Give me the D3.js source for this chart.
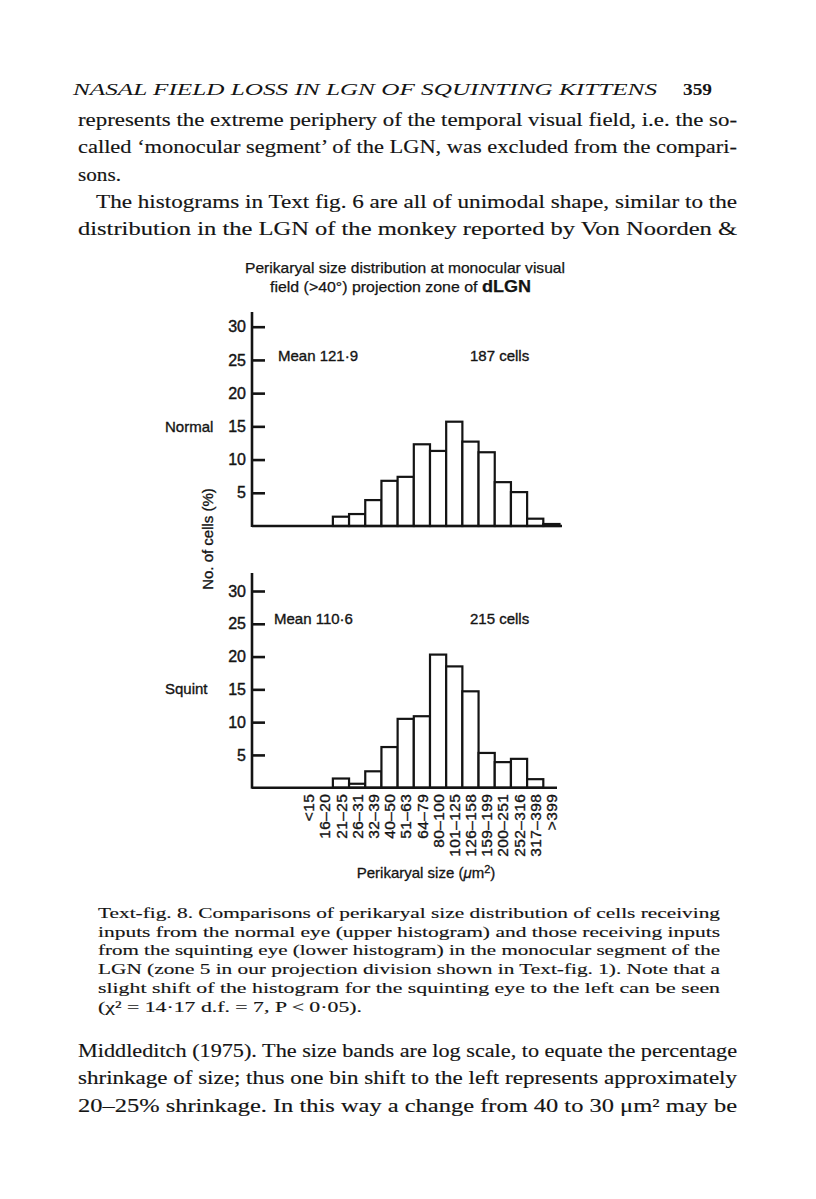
<!DOCTYPE html>
<html>
<head>
<meta charset="utf-8">
<script src="https://cdn.jsdelivr.net/npm/d3@7"></script>
<style>
  body { margin: 0; background: #fff; }
  svg { display: block; }
</style>
</head>
<body>
<script>
// Page size
const w = 816;
const h = 1199;

// Size bins (um^2), log spaced
const sizeBins = ["<15", "16–20", "21–25", "26–31", "32–39", "40–50", "51–63", "64–79",
  "80–100", "101–125", "126–158", "159–199", "200–251", "252–316", "317–398", ">399"];

// Percent of cells in each bin
const normalPct = [0, 0, 1.4, 1.8, 3.9, 6.8, 7.4, 12.3, 11.3, 15.7, 12.7, 11.1, 6.6, 5.1, 1.1, 0.3];
const squintPct = [0, 0, 1.4, 0.6, 2.5, 6.2, 10.5, 10.9, 20.3, 18.5, 14.7, 5.3, 3.9, 4.4, 1.3, 0];

// y ticks
const yTicks = [5, 10, 15, 20, 25, 30];

// Panel labels
const panelNames = ["Normal", "Squint"];
const panelMeans = ["Mean 121·9", "Mean 110·6"];
const panelCounts = ["187 cells", "215 cells"];

// Page text (header, paragraphs, caption)
const headerText = "NASAL FIELD LOSS IN LGN OF SQUINTING KITTENS";
const pageNumber = "359";
const topLines = [
  "represents the extreme periphery of the temporal visual field, i.e. the so-",
  "called ‘monocular segment’ of the LGN, was excluded from the compari-",
  "sons.",
  "The histograms in Text fig. 6 are all of unimodal shape, similar to the",
  "distribution in the LGN of the monkey reported by Von Noorden &"
];
const captionLines = [
  "Text-fig. 8. Comparisons of perikaryal size distribution of cells receiving",
  "inputs from the normal eye (upper histogram) and those receiving inputs",
  "from the squinting eye (lower histogram) in the monocular segment of the",
  "LGN (zone 5 in our projection division shown in Text-fig. 1). Note that a",
  "slight shift of the histogram for the squinting eye to the left can be seen",
  "(χ² = 14·17 d.f. = 7, P < 0·05)."
];
const bottomLines = [
  "Middleditch (1975). The size bands are log scale, to equate the percentage",
  "shrinkage of size; thus one bin shift to the left represents approximately",
  "20–25% shrinkage. In this way a change from 40 to 30 μm² may be"
];

const sans = "'Liberation Sans', Arial, Helvetica, sans-serif";
const serif = "'Liberation Serif', 'Times New Roman', serif";
const ink = "#141414";

const svg = d3.select("body").append("svg").attr("width", w).attr("height", h);
svg.append("rect").attr("width", w).attr("height", h).attr("fill", "#fff");

// Chart geometry
const axisX = 252;
const barLeft = 300.5;
const barRight = 559.5;
const panels = [
  { data: normalPct, base: 526, top: 326.7, axisTop: 312, lineEnd: 562, labelY: 432, textY: 361 },
  { data: squintPct, base: 787.7, top: 591, axisTop: 573, lineEnd: 557, labelY: 694, textY: 624 }
];

const xScale = d3.scaleBand().domain(sizeBins).range([barLeft, barRight]).padding(0);

panels.forEach((p, k) => drawPanel(p, k));

function drawPanel(p, k) {
  const yScale = d3.scaleLinear().domain([0, 30]).range([p.base, p.top]);
  const g = svg.append("g");

  // bars
  g.selectAll("rect")
    .data(p.data.map((v, i) => ({ bin: sizeBins[i], v: v })).filter(d => d.v > 0))
    .enter()
    .append("rect")
    .attr("x", d => xScale(d.bin))
    .attr("y", d => yScale(d.v))
    .attr("width", xScale.bandwidth())
    .attr("height", d => p.base - yScale(d.v))
    .attr("fill", "#fff")
    .attr("stroke", ink)
    .attr("stroke-width", 2.2);

  // y axis, ticks pointing inwards
  const yAxis = d3.axisLeft(yScale).tickValues(yTicks).tickSize(-13).tickPadding(6);
  const ya = g.append("g")
    .attr("transform", "translate(" + axisX + ",0)")
    .call(yAxis)
    .attr("font-size", 16)
    .attr("font-family", sans);
  ya.select(".domain").remove();
  ya.selectAll("line").attr("stroke", ink).attr("stroke-width", 2.6);
  ya.selectAll("text").attr("fill", ink).attr("stroke", ink).attr("stroke-width", 0.4);

  // axis + baseline
  g.append("line").attr("x1", axisX).attr("x2", axisX).attr("y1", p.base + 1).attr("y2", p.axisTop)
    .attr("stroke", ink).attr("stroke-width", 2.6);
  g.append("line").attr("x1", axisX).attr("x2", p.lineEnd).attr("y1", p.base).attr("y2", p.base)
    .attr("stroke", ink).attr("stroke-width", 2.6);

  // labels
  const lab = g.append("g").attr("font-family", sans).attr("font-size", 15)
    .attr("fill", ink).attr("stroke", ink).attr("stroke-width", 0.35);
  lab.append("text").attr("x", 165).attr("y", p.labelY).text(panelNames[k]);
  lab.append("text").attr("x", k === 0 ? 278 : 274).attr("y", p.textY).text(panelMeans[k]);
  lab.append("text").attr("x", 470).attr("y", p.textY).text(panelCounts[k]);

  // bin labels only under the lower histogram
  if (k === 1) {
    const xAxis = d3.axisBottom(xScale).tickSize(0).tickPadding(0);
    const xa = g.append("g")
      .attr("transform", "translate(0," + p.base + ")")
      .call(xAxis)
      .attr("font-size", 15.5)
      .attr("font-family", sans);
    xa.select(".domain").remove();
    xa.selectAll("text")
      .attr("transform", "rotate(-90)")
      .attr("x", -6)
      .attr("y", 0)
      .attr("dy", "0.36em")
      .attr("letter-spacing", 0.4)
      .style("text-anchor", "end")
      .attr("fill", ink).attr("stroke", ink).attr("stroke-width", 0.35);
  }
}

// Chart title
const title = svg.append("g").attr("font-family", sans).attr("fill", ink)
  .attr("stroke", ink).attr("stroke-width", 0.25);
title.append("text").attr("x", 245).attr("y", 272.5).attr("font-size", 15)
  .attr("textLength", 320).attr("lengthAdjust", "spacingAndGlyphs")
  .text("Perikaryal size distribution at monocular visual");
const t2 = title.append("text").attr("x", 270).attr("y", 291.5).attr("font-size", 15)
  .attr("textLength", 261).attr("lengthAdjust", "spacingAndGlyphs");
t2.append("tspan").text("field (>40°) projection zone of ");
t2.append("tspan").attr("font-weight", "bold").attr("font-size", 17).text("dLGN");

// y axis title
svg.append("text")
  .attr("transform", "translate(213,539)rotate(-90)")
  .attr("text-anchor", "middle")
  .attr("font-family", sans).attr("font-size", 15)
  .attr("fill", ink).attr("stroke", ink).attr("stroke-width", 0.35)
  .text("No. of cells (%)");

// x axis title
const xt = svg.append("text").attr("x", 426).attr("y", 878).attr("text-anchor", "middle")
  .attr("font-family", sans).attr("font-size", 15).attr("fill", ink)
  .attr("stroke", ink).attr("stroke-width", 0.3);
xt.append("tspan").text("Perikaryal size (");
xt.append("tspan").attr("font-style", "italic").text("μ");
xt.append("tspan").text("m");
xt.append("tspan").attr("dy", -5).attr("font-size", 11).text("2");
xt.append("tspan").attr("dy", 5).text(")");

// Running header
svg.append("text").attr("x", 73).attr("y", 95).attr("font-family", serif)
  .attr("font-style", "italic").attr("font-size", 17).attr("fill", ink)
  .attr("textLength", 584).attr("lengthAdjust", "spacingAndGlyphs")
  .text(headerText);
svg.append("text").attr("x", 683).attr("y", 95).attr("font-family", serif)
  .attr("font-weight", "bold").attr("font-size", 17).attr("fill", ink)
  .attr("textLength", 29).attr("lengthAdjust", "spacingAndGlyphs")
  .text(pageNumber);

// Body text blocks; lines are stretched to the measured width
function textBlock(lines, x0, x1, y0, step, size, indent, ends) {
  lines.forEach((s, i) => {
    const x = x0 + (indent[i] || 0);
    const end = ends[i] || x1;
    svg.append("text").attr("x", x).attr("y", y0 + i * step)
      .attr("font-family", serif).attr("font-size", size).attr("fill", ink)
      .attr("stroke", ink).attr("stroke-width", 0.15)
      .attr("textLength", end - x).attr("lengthAdjust", "spacingAndGlyphs")
      .text(s);
  });
}

textBlock(topLines, 78, 737, 126, 27.3, 19.5, { 3: 18 }, { 2: 121 });
textBlock(captionLines, 98, 720, 918, 18.7, 15.5, {}, { 5: 362 });
textBlock(bottomLines, 78, 737, 1057, 27.3, 19.5, {}, {});
</script>
</body>
</html>
